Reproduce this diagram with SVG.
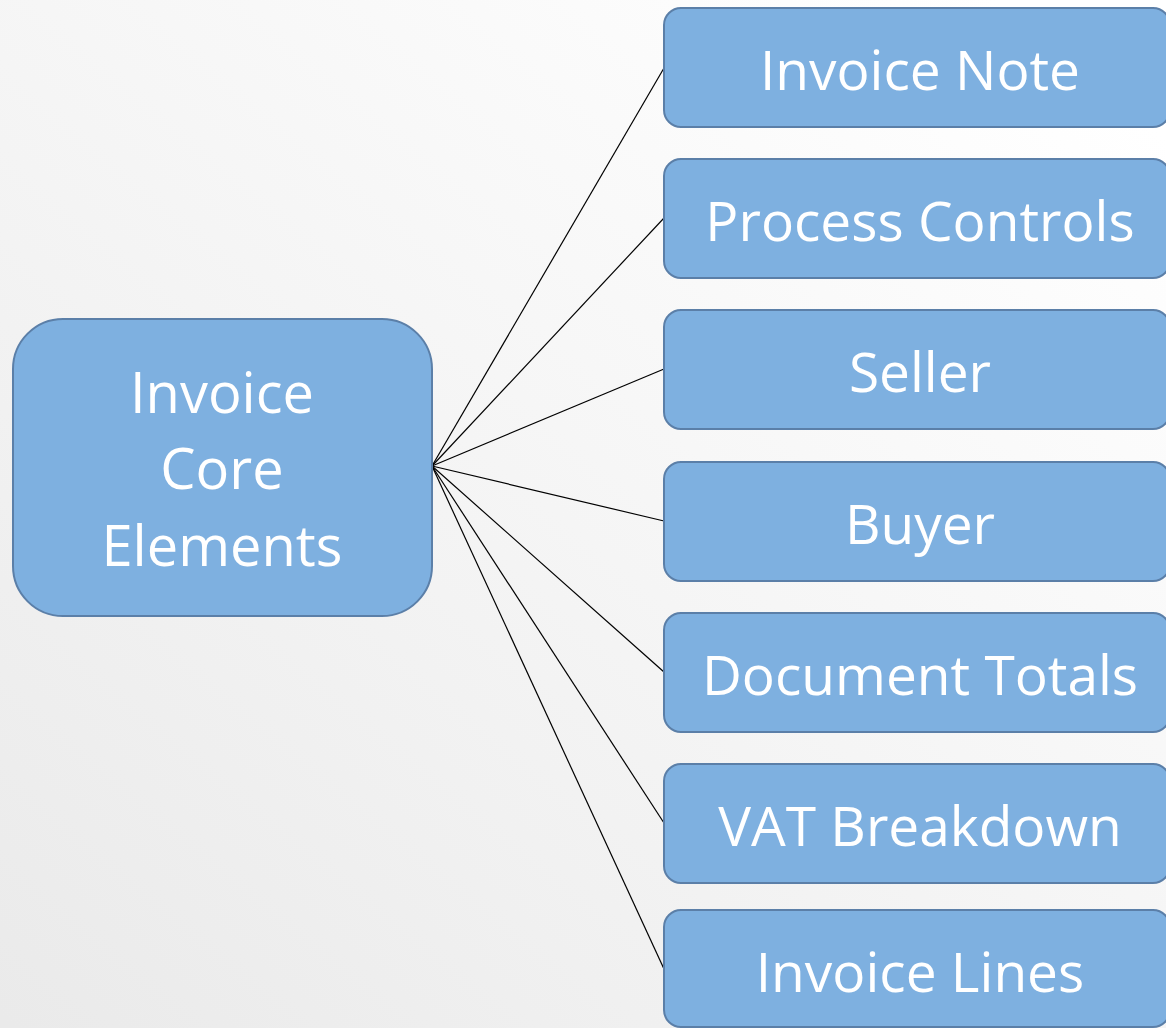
<svg xmlns="http://www.w3.org/2000/svg" width="1166" height="1028" viewBox="0 0 1166 1028">
<style>
.box{fill:#7eb0e0;stroke:#5b7fa8;stroke-width:2}
.t{font-family:"Open Sans","Noto Sans",sans-serif;fill:#ffffff;text-anchor:middle;font-size:55px}
.tc{font-size:56px}
.c{stroke:#000;stroke-width:1.2;fill:none}
</style>
<defs>
<linearGradient id="bg" gradientUnits="userSpaceOnUse" x1="100" y1="1100" x2="1000" y2="0">
<stop offset="0" stop-color="#eaeaea"/>
<stop offset="1" stop-color="#ffffff"/>
</linearGradient>
</defs>
<rect width="1166" height="1028" fill="url(#bg)"/>
<g id="connectors">
<line class="c" x1="432" y1="466" x2="664" y2="68"/>
<line class="c" x1="432" y1="466" x2="664" y2="218"/>
<line class="c" x1="432" y1="466" x2="664" y2="369"/>
<line class="c" x1="432" y1="466" x2="664" y2="521"/>
<line class="c" x1="432" y1="466" x2="664" y2="672"/>
<line class="c" x1="432" y1="466" x2="664" y2="823"/>
<line class="c" x1="432" y1="466" x2="664" y2="969"/>
</g>
<g id="core">
<rect class="box" x="13" y="319" width="419" height="297" rx="50"/>
<text class="t tc" x="222" y="413">Invoice</text>
<text class="t tc" x="222" y="489">Core</text>
<text class="t tc" x="222" y="566">Elements</text>
</g>
<g id="invoice-note">
<rect class="box" x="664" y="8" width="506" height="119" rx="17"/>
<text class="t" x="920" y="90">Invoice Note</text>
</g>
<g id="process-controls">
<rect class="box" x="664" y="159" width="506" height="119" rx="17"/>
<text class="t" x="920" y="241">Process Controls</text>
</g>
<g id="seller">
<rect class="box" x="664" y="310" width="506" height="119" rx="17"/>
<text class="t" x="920" y="392">Seller</text>
</g>
<g id="buyer">
<rect class="box" x="664" y="462" width="506" height="119" rx="17"/>
<text class="t" x="920" y="544">Buyer</text>
</g>
<g id="document-totals">
<rect class="box" x="664" y="613" width="506" height="119" rx="17"/>
<text class="t" x="920" y="695">Document Totals</text>
</g>
<g id="vat-breakdown">
<rect class="box" x="664" y="764" width="506" height="119" rx="17"/>
<text class="t" x="920" y="846">VAT Breakdown</text>
</g>
<g id="invoice-lines">
<rect class="box" x="664" y="910" width="506" height="117" rx="17"/>
<text class="t" x="920" y="992">Invoice Lines</text>
</g>
</svg>
